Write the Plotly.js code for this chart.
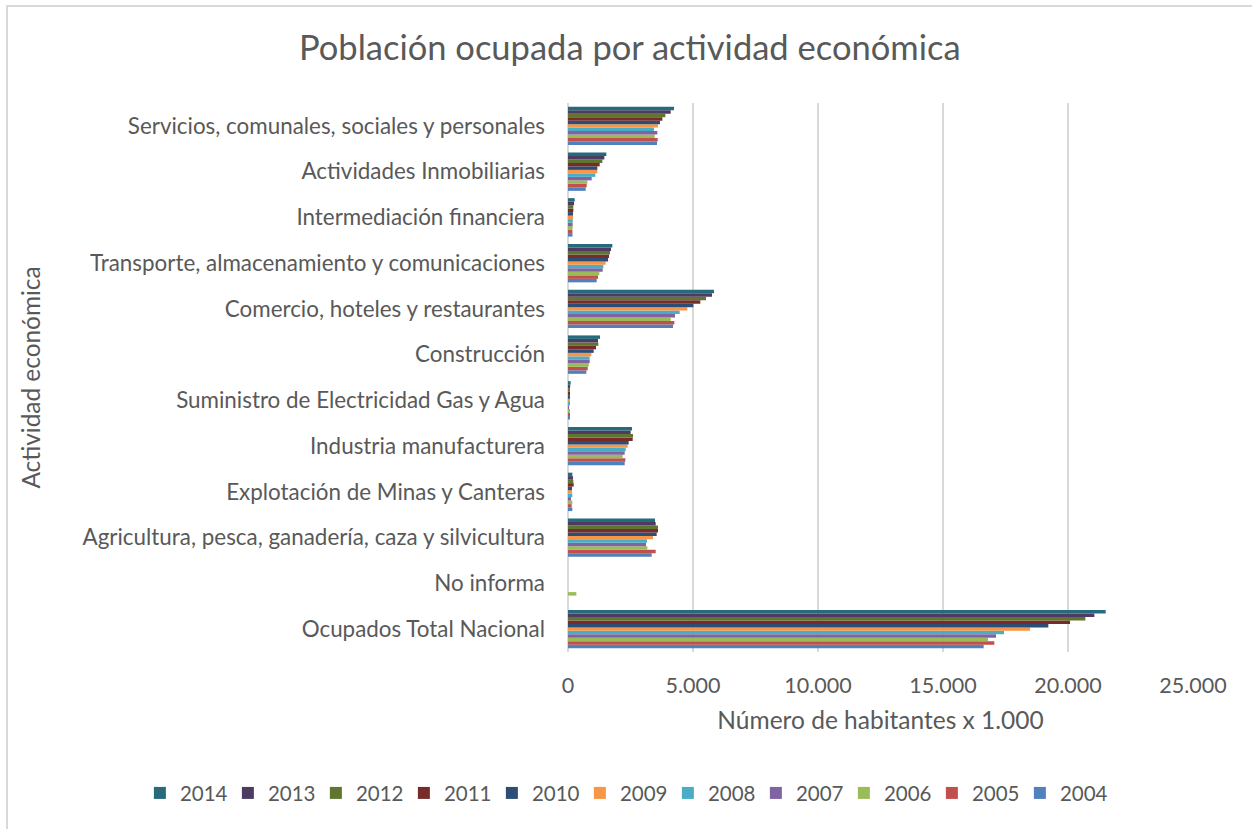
<!DOCTYPE html>
<html>
<head>
<meta charset="utf-8">
<script src="https://cdn.plot.ly/plotly-3.0.1.min.js"></script>
<style>
html,body{margin:0;padding:0;background:#fff;}
#frame{position:absolute;left:6px;top:5px;width:1246px;height:824px;border-top:2px solid #d9d9d9;border-left:2px solid #d9d9d9;box-sizing:border-box;pointer-events:none;z-index:10;}
#chart{width:1252px;height:829px;}
</style>
</head>
<body>
<div id="frame"></div>
<div id="chart"></div>
<script>
const categories = [
  "Ocupados Total Nacional",
  "No informa",
  "Agricultura, pesca, ganadería, caza y silvicultura",
  "Explotación de Minas y Canteras",
  "Industria manufacturera",
  "Suministro de Electricidad Gas y Agua",
  "Construcción",
  "Comercio, hoteles y restaurantes",
  "Transporte, almacenamiento y comunicaciones",
  "Intermediación financiera",
  "Actividades Inmobiliarias",
  "Servicios, comunales, sociales y personales"
];
const years = ["2004","2005","2006","2007","2008","2009","2010","2011","2012","2013","2014"];
// values per year (miles de habitantes), in order of categories above
const v2004 = [16627, 0, 3347, 173, 2267, 50, 733, 4200, 1147, 180, 707, 3560];
const v2005 = [17053, 0, 3507, 147, 2293, 45, 787, 4253, 1200, 175, 747, 3587];
const v2006 = [16800, 333, 3173, 173, 2187, 45, 827, 4107, 1253, 185, 773, 3467];
const v2007 = [17120, 0, 3120, 120, 2267, 40, 867, 4280, 1387, 185, 947, 3573];
const v2008 = [17440, 0, 3160, 173, 2307, 45, 867, 4467, 1413, 190, 1093, 3440];
const v2009 = [18480, 0, 3400, 160, 2387, 50, 933, 4773, 1507, 200, 1173, 3600];
const v2010 = [19213, 0, 3547, 160, 2427, 70, 1027, 5013, 1600, 200, 1173, 3680];
const v2011 = [20080, 0, 3600, 227, 2587, 80, 1120, 5293, 1640, 213, 1267, 3773];
const v2012 = [20693, 0, 3600, 213, 2600, 80, 1213, 5520, 1680, 213, 1373, 3893];
const v2013 = [21053, 0, 3507, 200, 2507, 85, 1200, 5760, 1720, 240, 1453, 4107];
const v2014 = [21507, 0, 3480, 173, 2560, 107, 1280, 5840, 1773, 267, 1533, 4240];
const seriesValues = [v2004, v2005, v2006, v2007, v2008, v2009, v2010, v2011, v2012, v2013, v2014];
const colors = ["#4F81BD","#C0504D","#9BBB59","#8064A2","#4BACC6","#F79646","#2C4D75","#772C2A","#5F7530","#4D3B62","#276A7C"];
const xTicks = [0, 5000, 10000, 15000, 20000, 25000];

const FONT = "Lato, Open Sans, sans-serif";
const GREY = "#595959";

const traces = years.map((yr, i) => ({
  type: "bar",
  orientation: "h",
  name: yr,
  y: categories,
  x: seriesValues[i],
  marker: {color: colors[i]},
  hoverinfo: "x+y+name"
}));

const layout = {
  width: 1252,
  height: 829,
  paper_bgcolor: "#ffffff",
  plot_bgcolor: "#ffffff",
  separators: ",.",
  font: {family: FONT, color: GREY, size: 20},
  margin: {l: 568, r: 59, t: 103, b: 177},
  barmode: "group",
  bargap: 0.16,
  bargroupgap: 0,
  title: {
    text: "Población ocupada por actividad económica",
    font: {family: FONT, size: 34.5, color: GREY},
    xref: "container", x: 0.503, xanchor: "center",
    yref: "container", y: 1 - 48/829, yanchor: "middle"
  },
  xaxis: {
    range: [0, 25000],
    tickvals: xTicks,
    tickformat: ",d",
    showgrid: true,
    gridcolor: "#d9d9d9",
    gridwidth: 1.5,
    zeroline: true,
    zerolinecolor: "#d9d9d9",
    zerolinewidth: 1.5,
    showline: false,
    ticks: "",
    ticklabelstandoff: 18,
    tickfont: {family: FONT, size: 21.5, color: GREY},
    title: {text: "Número de habitantes x 1.000", font: {family: FONT, size: 24.5, color: GREY}, standoff: 15}
  },
  yaxis: {
    type: "category",
    showgrid: false,
    zeroline: false,
    showline: false,
    ticks: "",
    ticklabelstandoff: 22,
    tickfont: {family: FONT, size: 22.4, color: GREY},
    title: {text: "Actividad económica", font: {family: FONT, size: 24.4, color: GREY}, standoff: 35}
  },
  legend: {
    orientation: "h",
    traceorder: "reversed",
    xref: "paper", x: -0.685, xanchor: "left",
    yref: "paper", y: -0.257, yanchor: "middle",
    font: {family: FONT, size: 20.5, color: GREY},
    itemwidth: 30,
    entrywidth: 43,
    entrywidthmode: "pixels",
    bgcolor: "rgba(0,0,0,0)"
  },
  showlegend: true
};

Plotly.newPlot("chart", traces, layout, {displayModeBar: false, responsive: false});
</script>
</body>
</html>
